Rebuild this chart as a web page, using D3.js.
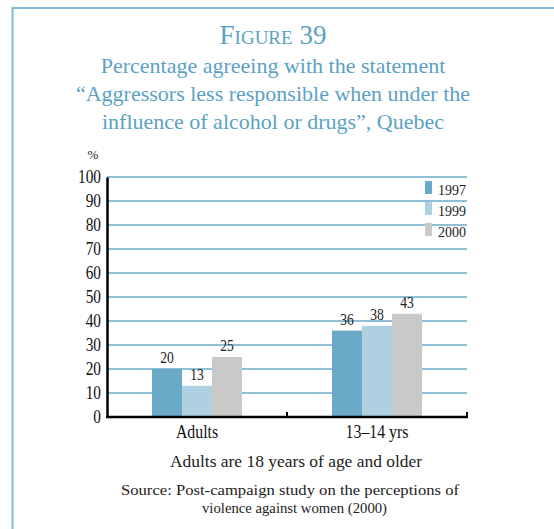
<!DOCTYPE html>
<html><head><meta charset="utf-8">
<script src="https://cdn.jsdelivr.net/npm/d3@7"></script>
<style>body{margin:0;background:#fff}svg{display:block}</style>
</head><body>
<script>
const categories = ["Adults", "13\u201314 yrs"];
const years = ["1997", "1999", "2000"];
const values1997 = [20, 36];
const values1999 = [13, 38];
const values2000 = [25, 43];
const yTicks = [0,10,20,30,40,50,60,70,80,90,100];
const colors = ["#6aaac8", "#aed0e1", "#c9c9c9"];
const titleLines = ["Percentage agreeing with the statement", "\u201cAggressors less responsible when under the", "influence of alcohol or drugs\u201d, Quebec"];

const W = 554, H = 529;
const svg = d3.select("body").append("svg").attr("width", W).attr("height", H);
const blue = "#6aaac8";
const serif = "'Liberation Serif','DejaVu Serif',serif";

// frame
svg.append("line").attr("x1",12.5).attr("x2",12.5).attr("y1",7).attr("y2",H).attr("stroke","#7fbbd8").attr("stroke-width",2);
svg.append("line").attr("x1",12).attr("x2",W).attr("y1",8).attr("y2",8).attr("stroke","#7fbbd8").attr("stroke-width",2);

// title
svg.append("text").attr("x",273).attr("y",44).attr("text-anchor","middle")
  .attr("font-family",serif).attr("font-size",27).attr("fill","#5aa2c4")
  .style("font-variant","small-caps").text("Figure 39");
titleLines.forEach((t,i)=>{
  svg.append("text").attr("x",273).attr("y",73+i*28).attr("text-anchor","middle")
    .attr("font-family",serif).attr("font-size",22).attr("fill","#5aa2c4").text(t);
});

const x0 = d3.scaleBand().domain(categories).range([107,467]).padding(0);
const x1 = d3.scaleBand().domain(years).range([x0.bandwidth()*0.25, x0.bandwidth()*0.75]).padding(0);
const y = d3.scaleLinear().domain([0,100]).range([417,177]);

// gridlines
svg.append("g").selectAll("line").data(yTicks.filter(d=>d>0)).join("line")
  .attr("x1",107).attr("x2",467).attr("y1",d=>y(d)).attr("y2",d=>y(d))
  .attr("stroke",blue).attr("stroke-width",1.6);

// bars
const series = [values1997, values1999, values2000];
const data = [];
categories.forEach((c,ci)=>years.forEach((yr,yi)=>data.push({c,yr,yi,v:series[yi][ci]})));
svg.append("g").selectAll("rect").data(data).join("rect")
  .attr("x",d=>x0(d.c)+x1(d.yr)).attr("width",x1.bandwidth())
  .attr("y",d=>y(d.v)).attr("height",d=>y(0)-y(d.v)).attr("fill",d=>colors[d.yi]);

// value labels
svg.append("g").selectAll("text").data(data).join("text")
  .attr("transform",d=>`translate(${x0(d.c)+x1(d.yr)+x1.bandwidth()/2},${y(d.v)-6}) scale(0.85,1)`)
  .attr("text-anchor","middle").attr("font-family",serif).attr("font-size",16).attr("fill","#222").text(d=>d.v);

// axes
const yAxis = svg.append("g").attr("transform","translate(107,0)")
  .call(d3.axisLeft(y).tickValues(yTicks).tickSize(0).tickPadding(6));
yAxis.select(".domain").attr("stroke","#000").attr("stroke-width",2.5);
yAxis.selectAll(".tick text").attr("font-family",serif).attr("font-size",18).attr("fill","#111");
yAxis.selectAll(".tick text").each(function(){
  const el=d3.select(this); const xx=+el.attr("x")||-6;
  el.attr("x",null).attr("transform",`translate(${xx},0) scale(0.85,1)`);
});

const xAxis = svg.append("g").attr("transform","translate(0,417)");
xAxis.append("line").attr("x1",106).attr("x2",468).attr("y1",0).attr("y2",0).attr("stroke","#000").attr("stroke-width",2.5);
[287,467].forEach(px=>xAxis.append("line").attr("x1",px).attr("x2",px).attr("y1",0).attr("y2",-5).attr("stroke","#000").attr("stroke-width",2));
categories.forEach(c=>{
  xAxis.append("text").attr("transform",`translate(${x0(c)+x0.bandwidth()/2},21) scale(0.88,1)`)
    .attr("text-anchor","middle").attr("font-family",serif).attr("font-size",18).attr("fill","#111").text(c);
});

// % label
svg.append("text").attr("x",93).attr("y",159).attr("text-anchor","middle").attr("font-family",serif).attr("font-size",13).attr("fill","#222").text("%");

// legend
years.forEach((yr,i)=>{
  svg.append("rect").attr("x",425).attr("y",181+i*21).attr("width",7).attr("height",13).attr("fill",colors[i]);
  svg.append("text").attr("x",438).attr("y",195+i*21).attr("font-family",serif).attr("font-size",14).attr("fill","#222").text(yr);
});

// footnotes
const notes = [
  {t:"Adults are 18 years of age and older", x:296, y:467, w:252, s:16.5},
  {t:"Source: Post-campaign study on the perceptions of", x:290, y:495, w:338, s:15},
  {t:"violence against women (2000)", x:294.5, y:513, w:185, s:15}
];
notes.forEach(n=>{
  svg.append("text").attr("x",n.x).attr("y",n.y).attr("text-anchor","middle").attr("font-family",serif)
    .attr("font-size",n.s).attr("fill","#222").attr("textLength",n.w).attr("lengthAdjust","spacingAndGlyphs").text(n.t);
});
</script>
</body></html>
